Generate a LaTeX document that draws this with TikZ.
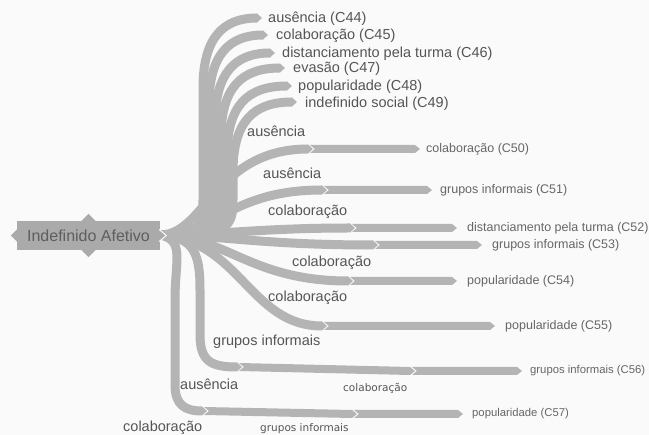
\documentclass[tikz,border=0pt]{standalone}
\usepackage{fontspec}
\setmainfont{Liberation Sans}
\newfontfamily\minifont{DejaVu Sans}
\usetikzlibrary{calc}
\definecolor{bggray}{HTML}{FAFAFA}
\definecolor{brgray}{HTML}{B4B4B4}
\definecolor{rootgray}{HTML}{AAAAAA}
\definecolor{txtgray}{HTML}{555555}
\tikzset{
  root/.style={fill=rootgray, minimum width=143pt, minimum height=29pt, inner sep=0pt, text=txtgray!110!black, font=\fontsize{16}{18}\selectfont},
  br/.style={draw=brgray, line width=9pt},
  blab/.style={anchor=west, inner sep=0pt, text=txtgray, font=\fontsize{14.5}{16}\selectfont},
  leaf/.style={anchor=west, inner sep=0pt, text=txtgray!90, font=\fontsize{12.5}{14}\selectfont},
  leafsm/.style={leaf, font=\fontsize{11.3}{13}\selectfont},
  mini/.style={anchor=west, inner sep=0pt, text=txtgray, font=\minifont\fontsize{10.5}{12}\selectfont}
}
\newcommand{\tipat}[1]{\fill[brgray] ($(#1)+(0,-4.5)$) -- ($(#1)+(5,0)$) -- ($(#1)+(0,4.5)$) -- cycle;}
\newcommand{\chev}[2]{\fill[brgray] ($(#1)+(0,-4)$) -- ($(#2)+(0,-4)$) -- ($(#2)+(5,0)$) -- ($(#2)+(0,4)$) -- ($(#1)+(0,4)$) -- ($(#1)+(5,0)$) -- cycle;}

\begin{document}
\begin{tikzpicture}[x=1pt, y=-1pt]
	\fill[bggray] (0,0) rectangle (649,435);
	\useasboundingbox (0,0) rectangle (649,435);
	\coordinate (r) at (160,235);
	% upper fan
	\coordinate (e44) at (257,18);
	\coordinate (e45) at (263,35);
	\coordinate (e46) at (270,53);
	\coordinate (e47) at (280,68);
	\coordinate (e48) at (287,86);
	\coordinate (e49) at (292,102);
	\draw[br] (r) .. controls (198,235) and (203,228) .. (203,200) -- (203,88) .. controls (203,38) and (223,18) .. (e44);
	\draw[br] (r) .. controls (204,235) and (209,228) .. (209,200) -- (209,105) .. controls (209,55) and (229,35) .. (e45);
	\draw[br] (r) .. controls (210,235) and (215,228) .. (215,200) -- (215,123) .. controls (215,73) and (235,53) .. (e46);
	\draw[br] (r) .. controls (216,235) and (221,228) .. (221,200) -- (221,138) .. controls (221,88) and (241,68) .. (e47);
	\draw[br] (r) .. controls (222,235) and (227,228) .. (227,200) -- (227,156) .. controls (227,106) and (247,86) .. (e48);
	\draw[br] (r) .. controls (228,235) and (233,228) .. (233,200) -- (233,172) .. controls (233,122) and (253,102) .. (e49);
	\tipat{e44} \tipat{e45} \tipat{e46} \tipat{e47} \tipat{e48} \tipat{e49}
	% middle branches
	\coordinate (b50) at (308,149);
	\coordinate (b51) at (322,190);
	\coordinate (b52) at (350,228);
	\coordinate (b53) at (373,245);
	\coordinate (b54) at (348,281);
	\coordinate (b55) at (322,326);
	\coordinate (b56) at (237,367);
	\coordinate (b57) at (202,411);
	\draw[br] (r) .. controls (205,235) and (215,149) .. (b50);
	\draw[br] (r) .. controls (215,235) and (230,190) .. (b51);
	\draw[br] (r) .. controls (220,235) and (260,228) .. (b52);
	\draw[br] (r) .. controls (220,235) and (260,245) .. (b53);
	\draw[br] (r) .. controls (225,235) and (250,281) .. (b54);
	\draw[br] (r) .. controls (240,240) and (250,326) .. (b55);
	\draw[br] (r) .. controls (195,237) and (200,255) .. (200,290) -- (200,335) .. controls (200,362) and (212,367) .. (b56);
	\draw[br] (r) .. controls (185,240) and (175,260) .. (175,300) -- (175,385) .. controls (175,405) and (185,411) .. (b57);
	\tipat{b50} \tipat{b51} \tipat{b52} \tipat{b53} \tipat{b54} \tipat{b55} \tipat{b56} \tipat{b57}
	% second and third segments
	\coordinate (s50) at (310,149); \coordinate (t50) at (415,149);
	\coordinate (s51) at (324,190); \coordinate (t51) at (427,190);
	\coordinate (s52) at (352,228); \coordinate (t52) at (452,228);
	\coordinate (s53) at (375,245); \coordinate (t53) at (477,245);
	\coordinate (s54) at (350,281); \coordinate (t54) at (452,281);
	\coordinate (s55) at (324,326); \coordinate (t55) at (490,326);
	\coordinate (s56) at (239,367); \coordinate (m56) at (410,371);
	\coordinate (n56) at (412,371); \coordinate (t56) at (517,371);
	\coordinate (s57) at (204,411); \coordinate (m57) at (352,414);
	\coordinate (n57) at (354,414); \coordinate (t57) at (458,414);
	\chev{s50}{t50} \chev{s51}{t51} \chev{s52}{t52} \chev{s53}{t53}
	\chev{s54}{t54} \chev{s55}{t55}
	\chev{s56}{m56} \chev{n56}{t56}
	\chev{s57}{m57} \chev{n57}{t57}
	% root
	\node[root] (root) at (88.5,235.5) {Indefinido Afetivo};
	\fill[rootgray] ($(root.north)+(-7,0)$) -- ($(root.north)+(0,-7)$) -- ($(root.north)+(7,0)$) -- cycle;
	\fill[rootgray] ($(root.south)+(-7,0)$) -- ($(root.south)+(0,7)$) -- ($(root.south)+(7,0)$) -- cycle;
	\fill[rootgray] ($(root.west)+(0,-6)$) -- ($(root.west)+(-6,0)$) -- ($(root.west)+(0,6)$) -- cycle;
	\filldraw[fill=rootgray, draw=bggray, line width=1pt] ($(root.east)+(-1,-6)$) -- ($(root.east)+(6,0)$) -- ($(root.east)+(-1,6)$);
	% labels
	\node[blab] (l44) at (268,19) {ausência (C44)};
	\node[blab] (l45) at (276,36) {colaboração (C45)};
	\node[blab] (l46) at (282,54) {distanciamento pela turma (C46)};
	\node[blab] (l47) at (293,69) {evasão (C47)};
	\node[blab] (l48) at (298,87) {popularidade (C48)};
	\node[blab] (l49) at (305,104) {indefinido social (C49)};
	\node[blab] (a50) at (247,131) {ausência};
	\node[blab] (a51) at (263,173) {ausência};
	\node[blab] (a52) at (268,212) {colaboração};
	\node[blab] (a54) at (292,263) {colaboração};
	\node[blab] (a55) at (268,298) {colaboração};
	\node[blab] (a56) at (213,342) {grupos informais};
	\node[blab] (a57) at (180,384) {ausência};
	\node[blab] (a58) at (123,428) {colaboração};
	\node[mini] (m1) at (343,388) {colaboração};
	\node[mini] (m2) at (260,428.5) {grupos informais};
	\node[leaf] (l50) at (426,149) {colaboração (C50)};
	\node[leaf] (l51) at (440,190) {grupos informais (C51)};
	\node[leaf] (l52) at (467,228) {distanciamento pela turma (C52)};
	\node[leaf] (l53) at (492,245) {grupos informais (C53)};
	\node[leaf] (l54) at (467,281) {popularidade (C54)};
	\node[leaf] (l55) at (505,326) {popularidade (C55)};
	\node[leafsm] (l56) at (530,371) {grupos informais (C56)};
	\node[leafsm] (l57) at (472,414) {popularidade (C57)};
\end{tikzpicture}
\end{document}
